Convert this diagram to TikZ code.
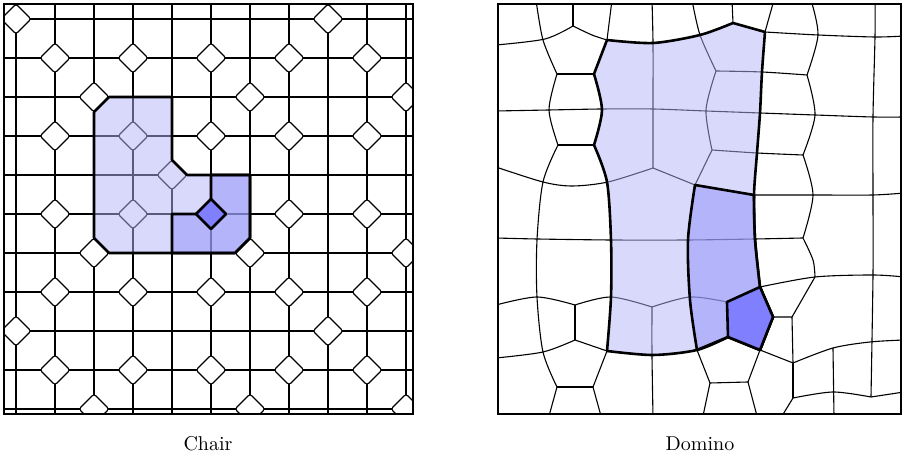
\documentclass[tikz,border=0pt]{standalone}
\usepackage{tikz}

\definecolor{tileA}{RGB}{180,180,250}
\definecolor{tileB}{RGB}{143,143,250}
\definecolor{tileC}{RGB}{128,128,255}

\tikzset{
  cell/.style={line width=0.55pt},
  rim/.style={line width=1.3pt, line join=round},
  frame/.style={line width=0.9pt},
  diam/.style={cell, fill=white, rounded corners=1.2pt},
  lightpart/.style={rim, fill=tileA, fill opacity=0.5},
  midpart/.style={rim, fill=tileB, fill opacity=0.5},
  darkpart/.style={rim, fill=tileC}
}

\begin{document}
\begin{tikzpicture}[x=0.5pt, y=-0.5pt]
  \useasboundingbox (0,0) rectangle (902,458);

  % ---------- Chair ----------
  \begin{scope}
    \clip (4,4) rectangle (413,414);
    % grid
    \foreach \i in {0,...,10} {
      \draw[cell] ({16+39*\i},0) -- ({16+39*\i},420);
      \draw[cell] (0,{19+39*\i}) -- (420,{19+39*\i});
    }
    % diamonds at the vertices
    \foreach \i/\j in {0/0,8/0, 1/1,3/1,5/1,7/1,9/1, 2/2,6/2,10/2,
                       1/3,3/3,5/3,7/3,9/3, 4/4, 1/5,3/5,5/5,7/5,9/5,
                       2/6,6/6,10/6, 1/7,3/7,5/7,7/7,9/7, 0/8,8/8,
                       1/9,3/9,5/9,7/9,9/9, 2/10,6/10,10/10}
      \draw[diam, shift={({16+39*\i},{19+39*\j})}]
        (-15,0) -- (0,-15) -- (15,0) -- (0,15) -- cycle;
  \end{scope}
  % big chair
  \filldraw[lightpart] (109,97) -- (172,97) -- (172,160) -- (187,175) -- (250,175)
    -- (250,238) -- (235,253) -- (109,253) -- (94,238) -- (94,112) -- cycle;
  % small chair
  \filldraw[midpart] (211,175) -- (250,175) -- (250,238) -- (235,253) -- (172,253)
    -- (172,214) -- (211,214) -- cycle;
  \filldraw[darkpart] (196,214) -- (211,199) -- (226,214) -- (211,229) -- cycle;
  \draw[frame] (4,4) rectangle (413,414);
  \node (chairlabel) at (208,444) {Chair};

  % ---------- Domino ----------
  \begin{scope}
    \clip (498,4) rectangle (901,414);
    % top left
    \draw[cell] (573,0) -- (573,26);
    \draw[cell] plot[smooth] coordinates {(573,26) (545,39) (496,45)};
    \draw[cell] plot[smooth] coordinates {(573,26) (592,35) (607,40)};
    \draw[cell] plot[smooth] coordinates {(536,0) (543,40) (557,74)};
    \draw[cell] (612,0) -- (607,40);
    \draw[cell] (557,74) -- (594,74);
    \draw[cell] plot[smooth] coordinates {(557,74) (549,110) (558,145)};
    \draw[cell] (558,145) -- (594,145);
    \draw[cell] plot[smooth] coordinates {(558,145) (543,182) (537,240) (537,297) (543,352) (557,387)};
    % horizontals
    \draw[cell] plot[smooth] coordinates {(496,111) (549,110) (602,109) (653,109) (706,111) (760,113) (815,115) (873,117) (904,117)};
    \draw[cell] plot[smooth] coordinates {(496,167) (543,182) (572,186) (608,182) (653,168)};
    \draw[cell] (653,168) -- (695,185);
    \draw[cell] plot[smooth] coordinates {(496,238) (537,239) (611,240) (688,240) (755,239) (803,238)};
    \draw[cell] plot[smooth] coordinates {(754,195) (813,195) (873,195) (904,193)};
    \draw[cell] plot[smooth] coordinates {(760,287) (815,277) (873,275) (904,277)};
    \draw[cell] plot[smooth] coordinates {(765,32) (818,35) (875,37) (904,36)};
    % top middle and right
    \draw[cell] plot[smooth] coordinates {(652,0) (653,43) (653,109) (653,168)};
    \draw[cell] plot[smooth] coordinates {(692,0) (700,35) (716,71)};
    \draw[cell] (732,0) -- (733,23);
    \draw[cell] (774,0) -- (765,32);
    \draw[cell] plot[smooth] coordinates {(716,71) (762,72) (807,75)};
    \draw[cell] plot[smooth] coordinates {(811,0) (818,35) (807,75)};
    \draw[cell] plot[smooth] coordinates {(807,75) (815,115) (803,155)};
    \draw[cell] plot[smooth] coordinates {(716,71) (706,110) (712,150)};
    \draw[cell] plot[smooth] coordinates {(712,150) (757,153) (803,155)};
    \draw[cell] (712,150) -- (695,185);
    \draw[cell] plot[smooth] coordinates {(803,155) (813,195) (803,238)};
    \draw[cell] plot[smooth] coordinates {(875,0) (875,37) (873,117) (873,195) (873,275) (871,397)};
    \draw[cell] plot[smooth] coordinates {(803,238) (813,260) (815,277)};
    % lower part
    \draw[cell] plot[smooth] coordinates {(496,305) (537,297) (575,305)};
    \draw[cell] plot[smooth] coordinates {(575,305) (611,297) (652,307)};
    \draw[cell] plot[smooth] coordinates {(652,307) (690,297) (727,302)};
    \draw[cell] (575,305) -- (575,340);
    \draw[cell] plot[smooth] coordinates {(496,358) (543,352) (575,340)};
    \draw[cell] (575,340) -- (607,351);
    \draw[cell] (607,351) -- (593,387);
    \draw[cell] (557,387) -- (593,387);
    \draw[cell] (557,387) -- (549,416);
    \draw[cell] (593,387) -- (601,416);
    \draw[cell] plot[smooth] coordinates {(652,307) (652,355) (653,416)};
    \draw[cell] (697,350) -- (710,383) -- (748,382) -- (760,350);
    \draw[cell] (710,383) -- (703,416);
    \draw[cell] (748,382) -- (757,416);
    % bottom right
    \draw[cell] (773,317) -- (792,317) -- (815,277);
    \draw[cell] (760,350) -- (793,363) -- (792,317);
    \draw[cell] plot[smooth] coordinates {(793,363) (833,348) (870,342) (904,340)};
    \draw[cell] (833,348) -- (834,416);
    \draw[cell] (793,363) -- (793,398);
    \draw[cell] plot[smooth] coordinates {(793,398) (833,392) (871,397)};
    \draw[cell] (793,398) -- (782,416);
    \draw[cell] (871,397) -- (904,392);
  \end{scope}
  % big domino
  \filldraw[lightpart] plot[smooth] coordinates {(607,40) (653,43) (700,35) (733,23)}
    -- (765,32)
    -- plot[smooth] coordinates {(765,32) (762,72) (760,113) (757,153) (754,195) (755,239) (760,287)}
    -- (773,317) -- (760,350) -- (728,337)
    -- plot[smooth] coordinates {(728,337) (697,350) (653,355) (607,351)}
    -- plot[smooth] coordinates {(607,351) (611,297) (611,240) (607,182) (594,145)}
    -- plot[smooth] coordinates {(594,145) (602,110) (594,74)}
    -- cycle;
  % small domino
  \filldraw[midpart] (695,185) -- (754,195)
    -- plot[smooth] coordinates {(754,195) (755,239) (760,287)}
    -- (773,317) -- (760,350) -- (728,337) -- (697,350)
    -- plot[smooth] coordinates {(697,350) (690,300) (688,240) (695,185)}
    -- cycle;
  \filldraw[darkpart] (727,302) -- (760,287) -- (773,317) -- (760,350) -- (728,337) -- cycle;
  \draw[frame] (498,4) rectangle (901,414);
  \node (dominolabel) at (700,444) {Domino};
\end{tikzpicture}
\end{document}
